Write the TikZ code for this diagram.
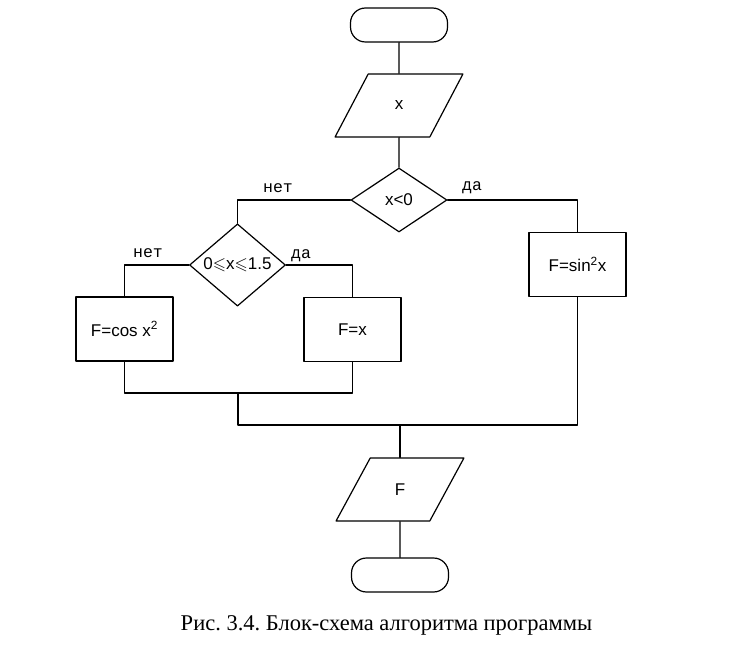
\documentclass[tikz,border=0pt]{standalone}
\usepackage{amssymb}
\usepackage{fontspec}
\setmainfont{Liberation Serif}
\newfontfamily\blockfont{Liberation Sans}
\newfontfamily\labelfont{Liberation Mono}
\usetikzlibrary{shapes.geometric}
\frenchspacing
\begin{document}
\begin{tikzpicture}[x=1pt, y=-1pt, line width=1.2pt, line join=round, line cap=round,
		blockfont/.style={font=\blockfont\fontsize{17}{19}\selectfont},
		term/.style={draw, rectangle, rounded corners=15pt, minimum width=97, minimum height=34, inner sep=0},
		io/.style={draw, trapezium, trapezium left angle=63, trapezium right angle=117, trapezium stretches=true, minimum width=128, minimum height=63, inner sep=0, blockfont},
		cond/.style={draw, diamond, minimum width=96, minimum height=64, inner sep=0, blockfont},
		proc/.style={draw, rectangle, minimum width=97, minimum height=64, inner sep=0, blockfont},
		yesno/.style={font=\labelfont\fontsize{16.5}{18}\selectfont}]
	\useasboundingbox (0,0) rectangle (750,663);
	\node[term] (start) at (399,25) {};
	\node[io] (in) at (399,105.5) {x};
	\node[cond] (c1) at (399,200) {x<0};
	\node[cond] (c2) at (237.5,265) {0$\leqslant$x$\leqslant$1.5};
	\node[proc] (sin) at (577.5,264.5) {F=sin\textsuperscript{2}x};
	\node[proc] (cos) at (124.5,329) {F=cos x\textsuperscript{2}};
	\node[proc] (fx) at (352.5,329.5) {F=x};
	\node[io] (out) at (400,489.5) {F};
	\node[term] (stop) at (400,575) {};
	\node[yesno] (no1) at (278,188) {нет};
	\node[yesno] (yes1) at (472,188) {да};
	\node[yesno] (no2) at (148,253) {нет};
	\node[yesno] (yes2) at (301,256) {да};
	\coordinate (j1) at (238,393);
	\coordinate (j2) at (238,425);
	\draw (start) -- (in);
	\draw (in) -- (c1);
	\draw (c1.west) -| (c2.north);
	\draw (c1.east) -| (sin.north);
	\draw (c2.west) -| (cos.north);
	\draw (c2.east) -| (fx.north);
	\draw (cos.south) |- (j1) -| (fx.south);
	\draw (j1) -- (j2) -| (sin.south);
	\draw (out.north) -- (out.north |- j2);
	\draw (out) -- (stop);
	\node[anchor=base, font=\fontsize{22.5}{26}\selectfont] (caption) at (386.5,630) {Рис. 3.4. Блок-схема алгоритма программы};
\end{tikzpicture}
\end{document}
